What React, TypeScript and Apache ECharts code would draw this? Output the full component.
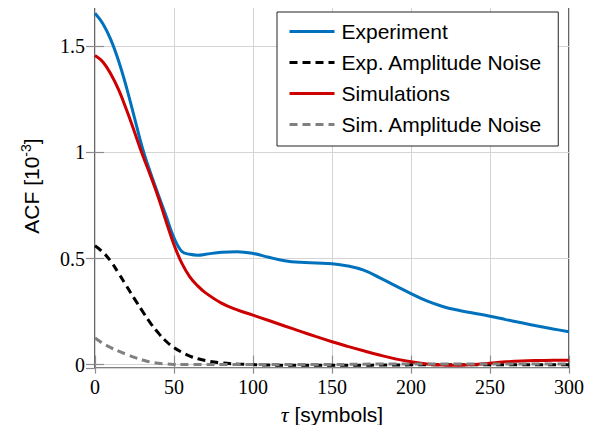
import React, { useEffect, useRef } from "react";
import * as echarts from "echarts";

const tau = [0, 5, 10, 15, 20, 25, 30, 35, 40, 45, 50, 55, 60, 65, 70, 80, 90, 100, 110, 120, 130, 140, 150, 160, 170, 180, 190, 200, 210, 220, 230, 240, 250, 260, 270, 280, 290, 300];
const experiment = [1.656, 1.607, 1.532, 1.43, 1.305, 1.163, 1.022, 0.907, 0.802, 0.7, 0.598, 0.533, 0.52, 0.516, 0.52, 0.53, 0.532, 0.524, 0.506, 0.49, 0.482, 0.479, 0.476, 0.465, 0.445, 0.41, 0.372, 0.335, 0.3, 0.274, 0.256, 0.242, 0.228, 0.212, 0.197, 0.182, 0.168, 0.155];
const expNoise = [0.56, 0.53, 0.487, 0.43, 0.37, 0.31, 0.252, 0.197, 0.15, 0.11, 0.08, 0.058, 0.04, 0.028, 0.019, 0.008, 0.003, 0.0, -0.002, -0.003, -0.003, -0.003, -0.003, -0.003, -0.003, -0.002, -0.002, -0.001, -0.001, -0.001, -0.001, -0.001, -0.001, -0.001, -0.001, -0.001, -0.001, -0.001];
const simulations = [1.457, 1.427, 1.37, 1.295, 1.2, 1.097, 0.99, 0.893, 0.79, 0.675, 0.565, 0.477, 0.414, 0.371, 0.338, 0.29, 0.258, 0.233, 0.208, 0.182, 0.157, 0.132, 0.108, 0.086, 0.065, 0.045, 0.027, 0.013, 0.003, -0.002, -0.003, 0.0, 0.007, 0.013, 0.017, 0.019, 0.02, 0.021];
const simNoise = [0.125, 0.1, 0.08, 0.063, 0.048, 0.034, 0.022, 0.012, 0.006, 0.003, 0.001, 0.0, 0.0, 0.0, 0.0, 0.0, 0.0, 0.0, 0.0, 0.0, 0.0, 0.0, 0.0, 0.001, 0.002, 0.003, 0.003, 0.003, 0.003, 0.003, 0.003, 0.003, 0.003, 0.003, 0.003, 0.003, 0.003, 0.003];

const seriesNames = ["Experiment", "Exp. Amplitude Noise", "Simulations", "Sim. Amplitude Noise"];
const xTicks = [0, 50, 100, 150, 200, 250, 300];
const yTicks = [0, 0.5, 1, 1.5];

const SERIF = "'Liberation Serif', 'DejaVu Serif', serif";
const SANS = "'Liberation Sans', Arial, sans-serif";

export default function App() {
  const ref = useRef<HTMLDivElement>(null);
  useEffect(() => {
    if (!ref.current) return;
    const chart = echarts.init(ref.current, null, { renderer: "svg" });
    const pts = (vals: number[]) => tau.map((t, i) => [t, vals[i]]);
    const mk = (name: string, vals: number[], color: string, dashed: boolean) => ({
      name,
      type: "line",
      data: pts(vals),
      smooth: 0.4,
      symbol: "none",
      showSymbol: false,
      lineStyle: { color, width: 3, type: dashed ? [8, 5] : "solid" },
      itemStyle: { color },
      z: 3,
    });
    const yFmt = (v: number) => (yTicks.some((t) => Math.abs(t - v) < 1e-9) ? String(v) : "");
    chart.setOption({
      animation: false,
      backgroundColor: "#fff",
      grid: { left: 95, right: 27, top: 4, bottom: 65, show: true, borderColor: "#000", borderWidth: 1.2, backgroundColor: "transparent" },
      legend: {
        orient: "vertical",
        left: 277,
        top: 12,
        data: seriesNames,
        itemWidth: 45,
        itemHeight: 14,
        itemGap: 10,
        padding: [9, 16, 11, 11],
        borderColor: "#222",
        borderWidth: 1,
        backgroundColor: "#fff",
        itemStyle: { opacity: 0 },
        lineStyle: { width: 3 },
        textStyle: { fontFamily: SANS, fontSize: 21, color: "#000", padding: [0, 0, 0, 2] },
        z: 10,
      },
      xAxis: [
        {
          type: "value",
          min: 0,
          max: 300,
          interval: 50,
          name: "{t|τ} [symbols]",
          nameLocation: "middle",
          nameGap: 35,
          nameTextStyle: {
            fontFamily: SANS,
            fontSize: 21,
            color: "#000",
            rich: { t: { fontFamily: SERIF, fontStyle: "italic", fontSize: 22, color: "#000" } },
          },
          axisLine: { show: false },
          axisTick: { show: true, inside: true, length: 9, lineStyle: { color: "#8c8c8c", width: 1.2 } },
          axisLabel: { fontFamily: SERIF, fontSize: 20, color: "#000", margin: 9, formatter: (v: number) => (xTicks.includes(v) ? String(v) : "") },
          splitLine: { show: true, lineStyle: { color: "#d4d4d4", width: 1 } },
        },
        {
          type: "value",
          position: "top",
          min: 0,
          max: 300,
          interval: 50,
          axisLine: { show: false },
          axisTick: { show: true, inside: true, length: 9, lineStyle: { color: "#8c8c8c", width: 1.2 } },
          axisLabel: { show: false },
          splitLine: { show: false },
        },
      ],
      yAxis: [
        {
          type: "value",
          min: -0.016,
          max: 1.7,
          splitNumber: 4,
          name: "ACF [10{sup|-3}]",
          nameLocation: "middle",
          nameRotate: 90,
          nameGap: 52,
          nameTextStyle: {
            fontFamily: SANS,
            fontSize: 21,
            color: "#000",
            rich: { sup: { fontFamily: SANS, fontSize: 14, color: "#000", padding: [0, 0, 10, 0] } },
          },
          axisLine: { show: false },
          axisTick: { show: true, inside: true, length: 9, lineStyle: { color: "#8c8c8c", width: 1.2 } },
          axisLabel: { fontFamily: SERIF, fontSize: 20, color: "#000", margin: 10, showMinLabel: false, showMaxLabel: false, formatter: yFmt },
          splitLine: { show: true, lineStyle: { color: "#d4d4d4", width: 1 } },
        },
        {
          type: "value",
          position: "right",
          min: -0.016,
          max: 1.7,
          splitNumber: 4,
          axisLine: { show: false },
          axisTick: { show: true, inside: true, length: 9, lineStyle: { color: "#8c8c8c", width: 1.2 } },
          axisLabel: { show: false },
          splitLine: { show: false },
        },
      ],
      series: [
        mk(seriesNames[0], experiment, "#0072BD", false),
        mk(seriesNames[1], expNoise, "#000000", true),
        mk(seriesNames[2], simulations, "#CC0000", false),
        mk(seriesNames[3], simNoise, "#808080", true),
      ],
    });
    return () => chart.dispose();
  }, []);
  return <div ref={ref} style={{ width: 596, height: 433, margin: -8 }} />;
}
